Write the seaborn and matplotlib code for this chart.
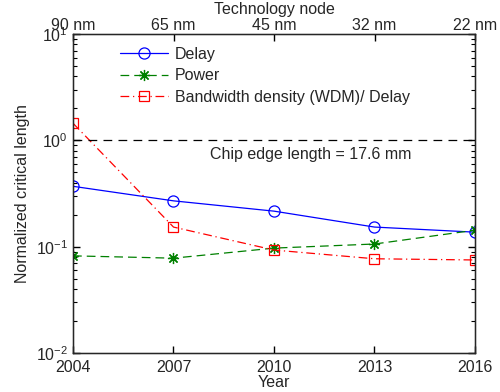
import numpy as np
import pandas as pd
import matplotlib
matplotlib.use('Agg')
import matplotlib.pyplot as plt
import matplotlib.ticker as mticker
import seaborn as sns

years = [2004, 2007, 2010, 2013, 2016]
nodes = ['90 nm', '65 nm', '45 nm', '32 nm', '22 nm']
delay = [0.37, 0.27, 0.216, 0.153, 0.137]
power = [0.082, 0.078, 0.097, 0.106, 0.143]
bw_density = [1.45, 0.153, 0.093, 0.077, 0.075]
chip_edge = 1.0

sns.set_style('ticks')
plt.rcParams['font.family'] = ['Liberation Sans', 'DejaVu Sans']
plt.rcParams['font.size'] = 11.5

fig = plt.figure(figsize=(5, 3.92), dpi=100)
ax = fig.add_axes([0.146, 0.0995, 0.804, 0.8135])

sns.lineplot(x=years, y=delay, ax=ax, color='blue', lw=0.9, marker='o', ms=8,
             mfc='none', mec='blue', mew=0.9, label='Delay')
sns.lineplot(x=years, y=power, ax=ax, color='green', lw=0.9, ls=(0, (7, 4)), marker=(8, 2, 0),
             ms=8, mfc='green', mec='green', mew=0.9, label='Power')
sns.lineplot(x=years, y=bw_density, ax=ax, color='red', lw=0.9, ls=(0, (7, 3, 1, 3)),
             marker='s', ms=7, mfc='none', mec='red', mew=0.9,
             label='Bandwidth density (WDM)/ Delay')
ax.axhline(chip_edge, color='black', lw=0.9, ls=(0, (7, 5)))
ax.text(2011.1, 0.73, 'Chip edge length = 17.6 mm', ha='center', va='center')

ax.set_yscale('log')
ax.set_ylim(1e-2, 1e1)
ax.yaxis.set_major_locator(mticker.LogLocator(base=10, numticks=10))
ax.yaxis.set_minor_locator(mticker.LogLocator(base=10, subs=np.arange(2, 10), numticks=20))
ax.yaxis.set_minor_formatter(mticker.NullFormatter())
ax.set_xlim(2004, 2016)
ax.set_xticks(years)
ax.set_xticklabels([str(y) for y in years])
ax.set_xlabel('Year', labelpad=0)
ax.set_ylabel('Normalized critical length')
ax.tick_params(direction='in', which='both', top=False, right=True, left=True,
               bottom=True, color='black')
ax.tick_params(which='major', length=5, width=1.0)
ax.tick_params(which='minor', length=3, width=0.8)
ax.tick_params(axis='x', pad=5)
for s in ax.spines.values():
    s.set_linewidth(1.0)
    s.set_color('black')

top = ax.twiny()
top.set_xlim(ax.get_xlim())
top.set_xticks(years)
top.set_xticklabels(nodes)
top.tick_params(direction='in', length=5, width=1.0, pad=1, color='black')
top.set_xlabel('Technology node', labelpad=3)

ax.legend(loc='upper left', bbox_to_anchor=(0.09, 0.995), frameon=False,
          handlelength=3, borderaxespad=0.3, labelspacing=0.4, handletextpad=0.4)

fig.savefig('out.png', dpi=100)
